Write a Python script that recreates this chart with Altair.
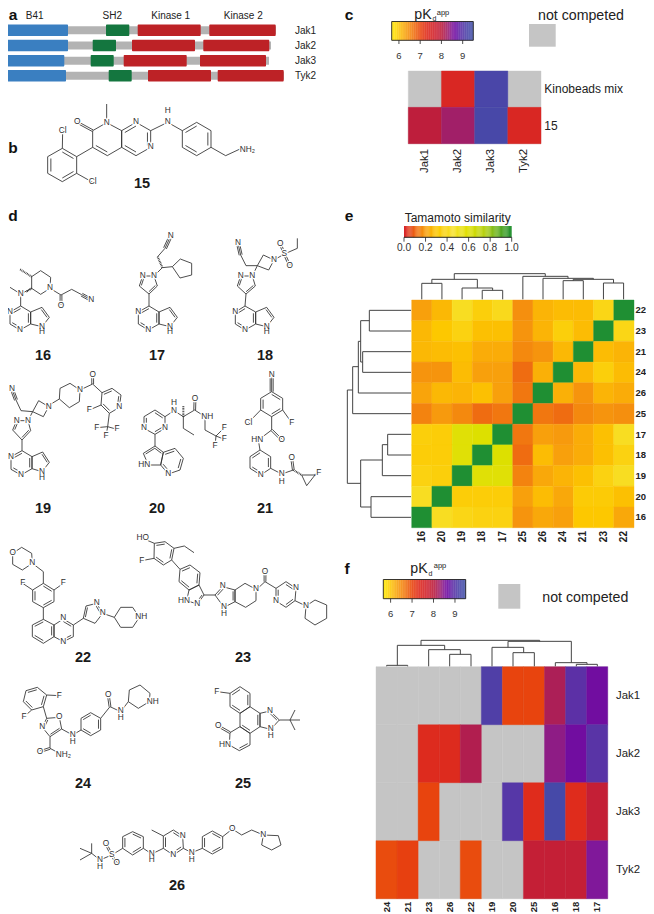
import altair as alt
import pandas as pd

# ---------- panel a ----------
proteins = ["Jak1", "Jak2", "Jak3", "Tyk2"]
protein_y = [30.3, 45.5, 60.7, 75.8]
backbone = [(0, 276), (0, 271), (1, 269), (0, 284)]
b41 = [(6.7, 68), (6.7, 68), (3.3, 64.3), (4.7, 66)]
sh2 = [(106, 129.3), (92.7, 116), (90.7, 113.7), (108.7, 131.7)]
kin1 = [(137.7, 200.7), (132, 195), (123.7, 186.7), (148, 211)]
kin2 = [(209.3, 275.7), (203.3, 269.3), (200, 266), (217.7, 283.7)]

# ---------- heat maps ----------
c_cols = ["Jak1", "Jak2", "Jak3", "Tyk2"]
c_rows = ["Kinobeads mix", "15"]
c_vals = [[None, 7.45, 9.2, None], [7.95, 8.25, 9.25, 7.45]]

e_cols = ["16", "20", "19", "18", "17", "25", "26", "24", "21", "23", "22"]
e_rows = ["22", "23", "21", "24", "26", "25", "17", "18", "19", "20", "16"]
e_vals = [
    [.20, .26, .42, .34, .40, .17, .25, .27, .27, .38, 1],
    [.26, .30, .36, .28, .28, .18, .25, .34, .27, 1, .38],
    [.26, .27, .28, .23, .23, .16, .18, .26, 1, .27, .25],
    [.18, .18, .27, .20, .20, .11, .24, 1, .26, .34, .27],
    [.21, .26, .25, .28, .20, .13, 1, .24, .18, .25, .23],
    [.15, .19, .16, .11, .13, 1, .13, .11, .16, .18, .17],
    [.34, .33, .58, .60, 1, .13, .20, .19, .23, .28, .42],
    [.33, .33, .58, 1, .60, .11, .27, .20, .23, .28, .36],
    [.36, .34, 1, .58, .58, .15, .22, .25, .28, .36, .42],
    [.42, 1, .33, .33, .33, .20, .27, .22, .32, .32, .28],
    [1, .42, .38, .36, .36, .18, .22, .20, .30, .30, .22],
]

f_cols = ["24", "21", "23", "26", "22", "19", "20", "25", "16", "18", "17"]
f_rows = ["Jak1", "Jak2", "Jak3", "Tyk2"]
f_vals = [
    [None, None, None, None, None, 9.1, 7.0, 7.0, 8.15, 8.9, 8.62],
    [None, None, 7.35, 7.35, 8.1, None, None, None, 8.4, 8.62, 8.95],
    [None, None, 7.0, None, None, None, 9.0, 7.3, 9.3, 7.3, 7.85],
    [6.95, 7.05, None, None, 6.95, None, None, 7.85, 7.85, 7.85, 8.5],
]

pk_domain = [5.66, 5.85, 6.0, 6.25, 6.5, 6.75, 7.0, 7.3, 7.6, 8.0, 8.3, 8.5, 8.65, 8.9, 9.2, 9.5]
pk_range = ["#ffe600", "#fed907", "#fcc40a", "#f8a70e", "#f58a10", "#ee6a10", "#e8440e", "#df2c1c",
            "#d3232a", "#bb1d3e", "#9c2070", "#80189a", "#6d0aa2", "#5c30a6", "#4a46a8", "#3f50a8"]
tama_domain = [0, .1, .2, .3, .45, .6, .75, .9, 1]
tama_range = ["#d7242a", "#ee6612", "#f8a00c", "#fdc800", "#f7e22a", "#dde000", "#b3d012", "#52a825", "#1f8f33"]

# ---------- dendrograms (crop pixels) ----------
e_top = [(276, 338, 250), (462, 525, 271), (400, 494, 264), (307, 447, 238), (711, 773, 242),
         (835, 897, 249), (742, 866, 238), (649, 804, 235), (587, 726, 229), (376, 656, 221)]
e_top_leaves = {276: 250, 338: 250, 462: 271, 525: 271, 400: 264, 711: 242, 773: 242, 835: 249, 897: 249, 649: 235,
                587: 229}
e_top_inner = [(307, 250, 238), (447, 264, 238), (494, 271, 264), (742, 242, 238), (866, 249, 238),
               (804, 238, 235), (726, 235, 229), (656, 229, 221), (376, 238, 221)]
e_left = [(331, 393, 118), (455, 517, 98), (362, 486, 92), (424, 579, 85), (500, 641, 68),
          (703, 765, 173), (734, 827, 157), (890, 952, 123), (780, 921, 92), (570, 850, 52)]
e_left_leaves = {331: 118, 393: 118, 455: 98, 517: 98, 579: 85, 641: 68, 703: 173, 765: 173, 827: 157, 890: 123,
                 952: 123}
e_left_inner = [(362, 118, 92), (486, 98, 92), (424, 92, 85), (500, 85, 68), (570, 68, 52),
                (734, 173, 157), (780, 157, 92), (921, 123, 92), (850, 92, 52)]
f_top = [(170, 233, 526), (359, 423, 493), (296, 391, 479), (202, 344, 466), (549, 613, 488),
         (486, 581, 472), (739, 802, 523), (676, 771, 518), (534, 724, 454), (273, 629, 451)]
f_leaves = {170: 526, 233: 526, 296: 479, 359: 493, 423: 493, 486: 472, 549: 488, 613: 488, 676: 518, 739: 523,
            802: 523}
f_inner = [(202, 526, 466), (344, 479, 466), (391, 493, 479), (581, 488, 472), (534, 472, 454),
           (771, 523, 518), (724, 518, 454), (273, 466, 451), (629, 454, 451)]

# ---------- molecules: (dx, dy, lines, rings, doubles, triples, hashes, atoms), crop pixels ----------
mols = []
mols.append((0, 0,
    [[(320, 368), (320, 312)], [(278, 442), (230, 470)], [(187, 445), (188, 392)], [(230, 520), (278, 547)],
     [(452, 392), (503, 367), (547, 392)], [(633, 442), (677, 467), (720, 447)]],
    [([(320, 368), (365, 392), (365, 442), (322, 467), (278, 442), (278, 392)], [3]),
     ([(365, 392), (408, 367), (452, 392), (452, 442), (408, 467), (365, 442)], [0, 2, 4]),
     ([(547, 392), (590, 367), (633, 392), (633, 442), (590, 467), (547, 442)], [0, 2, 4]),
     ([(230, 470), (187, 445), (143, 470), (143, 520), (187, 545), (230, 520)], [0, 2, 4])],
    [((278, 392), (232, 367))], [], [],
    [("O", 232, 367), ("N", 320, 368), ("N", 408, 367), ("N", 452, 442), ("N", 503, 367), ("H", 503, 332),
     ("NH₂", 742, 449), ("Cl", 188, 392), ("Cl", 278, 547)]))
# 16
mols.append((0, 200,
    [[(62, 318), (62, 282), (95, 265)], [(62, 282), (30, 262)], [(150, 265), (183, 285), (215, 268), (245, 284)]],
    [([(62, 318), (30, 336), (30, 372), (60, 390), (92, 372), (92, 336)], [0, 2, 4]),
     ([(92, 336), (126, 322), (148, 352), (126, 380), (92, 372)], [1]),
     ([(95, 265), (95, 230), (122, 212), (152, 232), (150, 265), (122, 283)], [])],
    [((183, 285), (183, 315))], [((245, 284), (274, 300))], [((95, 230), (60, 208)), ((95, 265), (78, 276))],
    [("N", 30, 336), ("N", 60, 390), ("N", 126, 380), ("H", 126, 397), ("N", 62, 282), ("N", 150, 265),
     ("O", 183, 317), ("N", 274, 300)]))
# 17
mols.append((0, 200,
    [[(447, 318), (447, 282)], [(462, 228), (487, 203), (517, 200)], [(473, 170), (495, 145)]],
    [([(447, 318), (415, 336), (415, 372), (445, 390), (477, 372), (477, 336)], [0, 2, 4]),
     ([(477, 336), (510, 322), (532, 352), (510, 380), (477, 372)], [1]),
     ([(447, 282), (418, 258), (428, 228), (462, 228), (472, 258)], [1, 4]),
     ([(517, 200), (541, 177), (575, 190), (575, 225), (540, 234)], [])],
    [], [((495, 145), (512, 108))], [((487, 203), (473, 170))],
    [("N", 415, 336), ("N", 445, 390), ("N", 510, 380), ("H", 510, 397), ("N", 428, 228), ("N", 462, 228),
     ("N", 512, 108)]))
# 18
mols.append((0, 200,
    [[(735, 318), (738, 282)], [(757, 228), (772, 197), (738, 197), (722, 165)], [(822, 180), (853, 162)],
     [(853, 162), (892, 145), (892, 115)]],
    [([(735, 318), (706, 336), (706, 372), (735, 390), (767, 372), (767, 336)], [0, 2, 4]),
     ([(767, 336), (800, 322), (822, 352), (800, 380), (767, 372)], [1]),
     ([(738, 282), (712, 258), (722, 228), (757, 228), (766, 258)], [1, 4]),
     ([(772, 197), (790, 165), (822, 180), (806, 210)], [])],
    [((853, 162), (841, 132)), ((853, 162), (869, 197))], [((722, 165), (714, 130))], [],
    [("N", 706, 336), ("N", 735, 390), ("N", 800, 380), ("H", 800, 397), ("N", 722, 228), ("N", 757, 228),
     ("N", 822, 180), ("S", 853, 162), ("O", 841, 132), ("O", 869, 197), ("N", 714, 130)]))
# 19
mols.append((6, 200,
    [[(48, 752), (48, 720)], [(66, 662), (80, 635), (45, 632), (30, 600)], [(125, 618), (160, 597)],
     [(222, 570), (260, 552), (288, 578)], [(285, 615), (250, 630)], [(310, 640), (305, 680)],
     [(305, 680), (272, 683)], [(305, 680), (333, 688)], [(305, 680), (300, 708)]],
    [([(48, 752), (15, 770), (15, 808), (45, 825), (78, 806), (78, 770)], [0, 2, 4]),
     ([(78, 770), (110, 756), (130, 787), (108, 815), (78, 806)], [1]),
     ([(48, 720), (20, 690), (32, 662), (66, 662), (74, 692)], [1, 4]),
     ([(80, 635), (98, 602), (128, 620), (112, 650)], []),
     ([(160, 597), (162, 565), (192, 550), (222, 570), (220, 605), (190, 623)], []),
     ([(288, 578), (318, 565), (345, 585), (340, 622), (310, 640), (285, 615)], [0, 2, 4])],
    [((260, 552), (260, 525))], [((30, 600), (18, 568))], [],
    [("N", 15, 770), ("N", 45, 825), ("N", 108, 815), ("H", 108, 835), ("N", 32, 662), ("N", 66, 662),
     ("N", 128, 620), ("N", 222, 570), ("O", 260, 525), ("N", 340, 622), ("F", 250, 630), ("N", 18, 568),
     ("F", 272, 683), ("F", 333, 688), ("F", 300, 708)]))
# 20
mols.append((0, 200,
    [[(495, 650), (522, 632), (550, 650), (584, 630), (615, 650), (615, 690), (648, 708)],
     [(550, 650), (550, 685), (582, 705)], [(648, 708), (673, 683)], [(648, 708), (673, 718)],
     [(648, 708), (645, 737)], [(465, 703), (465, 738)]],
    [([(465, 630), (432, 650), (432, 685), (465, 703), (495, 685), (495, 650)], [1, 3, 5]),
     ([(465, 738), (430, 760), (445, 795), (482, 795), (490, 757)], [0, 4]),
     ([(490, 757), (525, 745), (550, 775), (540, 810), (505, 822), (482, 795)], [0, 2, 4])],
    [((584, 630), (585, 597))], [], [((550, 650), (550, 618))],
    [("N", 432, 685), ("N", 495, 685), ("N", 522, 632), ("H", 522, 610), ("O", 585, 597), ("NH", 622, 650),
     ("HN", 433, 795), ("N", 505, 822), ("F", 673, 683), ("F", 673, 718), ("F", 645, 737)]))
# 21
mols.append((0, 200,
    [[(782, 630), (745, 668)], [(848, 630), (875, 668)], [(815, 650), (815, 690), (775, 720), (780, 750)],
     [(812, 805), (845, 822), (880, 810)]],
    [([(815, 575), (848, 595), (848, 630), (815, 650), (782, 630), (782, 595)], [0, 2, 4]),
     ([(780, 750), (812, 770), (812, 805), (782, 825), (750, 805), (750, 770)], [1, 3, 5]),
     ([(905, 825), (945, 825), (920, 857)], [])],
    [((815, 690), (845, 720)), ((880, 810), (875, 775))], [((815, 575), (815, 525))],
    [((880, 810), (905, 825)), ((945, 825), (952, 820))],
    [("N", 815, 525), ("Cl", 745, 668), ("F", 875, 668), ("O", 845, 720), ("HN", 772, 720), ("N", 782, 825),
     ("N", 845, 822), ("H", 845, 845), ("O", 875, 775), ("F", 956, 818)]))
# 22
mols.append((0, 530,
    [[(97, 100), (130, 125), (130, 160)], [(98, 180), (68, 160)], [(162, 180), (190, 160)], [(130, 233), (130, 268)],
     [(220, 285), (250, 265)], [(308, 250), (343, 262)]],
    [([(38, 70), (65, 52), (95, 70), (97, 100), (67, 120), (38, 103)], []),
     ([(130, 160), (162, 180), (162, 215), (130, 233), (98, 215), (98, 180)], [0, 2, 4]),
     ([(130, 268), (97, 285), (97, 320), (130, 340), (162, 320), (162, 285)], [0, 2, 4]),
     ([(162, 285), (190, 267), (220, 285), (220, 320), (190, 335), (162, 320)], [1, 3]),
     ([(250, 265), (258, 228), (290, 220), (308, 250), (285, 280)], [0, 2]),
     ([(343, 262), (362, 232), (398, 232), (418, 262), (398, 292), (362, 292)], [])],
    [], [], [],
    [("O", 38, 70), ("N", 97, 100), ("F", 68, 160), ("F", 190, 160), ("N", 190, 265), ("N", 190, 335),
     ("N", 290, 220), ("N", 308, 250), ("NH", 424, 262)]))
# 23
mols.append((0, 530,
    [[(463, 40), (428, 25)], [(462, 85), (425, 92)], [(522, 55), (553, 48), (582, 68)], [(515, 90), (540, 118)],
     [(612, 195), (645, 195)], [(768, 180), (795, 155), (828, 175)], [(885, 212), (918, 228)]],
    [([(463, 40), (495, 35), (522, 55), (515, 90), (490, 105), (462, 85)], [0, 2, 4]),
     ([(540, 118), (570, 105), (600, 128), (597, 165), (567, 180), (537, 155)], [0, 2, 4]),
     ([(597, 165), (612, 195), (592, 222), (560, 212), (567, 180)], [1]),
     ([(645, 195), (668, 170), (705, 180), (705, 215), (672, 232)], [0, 2]),
     ([(705, 180), (735, 160), (768, 178), (768, 212), (737, 232), (705, 215)], []),
     ([(828, 175), (858, 155), (888, 175), (885, 212), (858, 232), (828, 213)], [1, 3, 5]),
     ([(918, 228), (945, 210), (980, 225), (980, 265), (945, 285), (915, 265)], [])],
    [((795, 155), (795, 125))], [], [],
    [("HO", 428, 25), ("F", 425, 92), ("HN", 552, 212), ("N", 592, 222), ("N", 668, 168), ("N", 672, 232),
     ("H", 672, 251), ("N", 768, 178), ("O", 795, 125), ("N", 888, 175), ("N", 828, 213), ("N", 918, 228)]))
# 24
mols.append((0, 530,
    [[(140, 495), (178, 497)], [(95, 540), (72, 560)], [(130, 530), (140, 565)], [(185, 597), (218, 615), (243, 600)],
     [(302, 565), (330, 530), (362, 545), (385, 515)], [(150, 620), (150, 655), (182, 672)]],
    [([(78, 482), (112, 472), (140, 495), (130, 530), (95, 540), (70, 515)], [0, 2, 4]),
     ([(140, 565), (178, 562), (185, 597), (150, 620), (127, 592)], [2, 4]),
     ([(243, 565), (272, 548), (302, 565), (302, 600), (272, 617), (243, 600)], [0, 2, 4]),
     ([(385, 515), (388, 480), (420, 465), (450, 490), (448, 515), (415, 535)], [])],
    [((330, 530), (325, 495)), ((150, 655), (120, 665))], [], [],
    [("F", 178, 497), ("F", 72, 560), ("O", 178, 562), ("N", 127, 592), ("N", 218, 615), ("H", 218, 635),
     ("O", 325, 495), ("N", 362, 542), ("H", 362, 563), ("NH", 458, 515), ("O", 120, 665), ("NH₂", 190, 674)]))
# 25
mols.append((0, 530,
    [[(690, 490), (652, 485)], [(838, 570), (870, 570)], [(870, 570), (885, 540)], [(870, 570), (900, 570)],
     [(870, 570), (885, 600)]],
    [([(690, 490), (720, 470), (750, 490), (750, 530), (720, 550), (690, 530)], [0, 2, 4]),
     ([(750, 530), (780, 550), (780, 590), (750, 610), (720, 590), (720, 550)], [1, 3]),
     ([(780, 550), (810, 543), (838, 570), (812, 598), (780, 590)], [1]),
     ([(720, 590), (750, 610), (750, 645), (718, 662), (688, 645), (690, 608)], [2])],
    [((690, 608), (655, 588))], [], [],
    [("F", 650, 485), ("N", 810, 543), ("N", 812, 598), ("H", 812, 619), ("O", 655, 588), ("HN", 675, 645)]))
# 26
mols.append((0, 530,
    [[(275, 970), (240, 955)], [(275, 970), (240, 990)], [(275, 940), (275, 970), (300, 990), (335, 975), (368, 955)],
     [(430, 955), (455, 972), (490, 955)], [(490, 918), (455, 900)], [(550, 955), (575, 968), (607, 955)],
     [(668, 920), (697, 897), (725, 915), (755, 900), (790, 915)]],
    [([(368, 955), (368, 920), (398, 905), (430, 920), (430, 955), (398, 975)], [0, 2, 4]),
     ([(490, 955), (490, 918), (520, 900), (548, 918), (550, 955), (520, 975)], [0, 2, 4]),
     ([(607, 955), (607, 920), (637, 903), (668, 920), (668, 955), (637, 972)], [0, 2, 4]),
     ([(790, 915), (835, 917), (843, 945), (815, 960), (785, 945)], [])],
    [((335, 975), (318, 942)), ((335, 975), (350, 1000))], [], [],
    [("N", 300, 990), ("H", 300, 1012), ("S", 335, 975), ("O", 318, 942), ("O", 350, 1000), ("N", 455, 972),
     ("H", 455, 991), ("N", 548, 918), ("N", 520, 975), ("N", 575, 968), ("H", 575, 990), ("O", 697, 897),
     ("N", 790, 915)]))

mol_names = ["15", "16", "17", "18", "19", "20", "21", "22", "23", "24", "25", "26"]
mol_x = [142, 43, 157, 265, 43, 157, 265, 83, 243, 83, 243, 177]
mol_y = [184, 356, 356, 356, 509, 509, 509, 658, 658, 784, 784, 886]

# ---------- plain labels ----------
panel_letters = [("a", 13, 15), ("b", 13, 148), ("c", 349, 15), ("d", 13, 216), ("e", 349, 216), ("f", 347, 569)]

FONT = "Liberation Sans"
X = alt.Scale(domain=[8, 646], range=[0, 638], nice=False, zero=False)
Y = alt.Scale(domain=[8, 914], range=[0, 906], nice=False, zero=False)


def px(v):
    return alt.value(v - 8)


def xq(f):
    return alt.X(f, type="quantitative", scale=X, axis=None)


def yq(f):
    return alt.Y(f, type="quantitative", scale=Y, axis=None)


def rects(rows, color, **kw):
    df = pd.DataFrame(rows, columns=["x", "x2", "y", "y2"])
    return alt.Chart(df).mark_rect(color=color, **kw).encode(
        x=xq("x"), x2="x2", y=yq("y"), y2="y2")


def segs(rows, color="#333333", width=0.75, **kw):
    df = pd.DataFrame(rows, columns=["x", "y", "x2", "y2"])
    return alt.Chart(df).mark_rule(color=color, strokeWidth=width, **kw).encode(
        x=xq("x"), y=yq("y"), x2="x2", y2="y2")


def texts(rows, size, weight="normal", color="#222222", align="center", angle=0, halo=False, **extra):
    df = pd.DataFrame(rows, columns=["t", "x", "y"])
    kw = dict(font=FONT, fontSize=size, fontWeight=weight, color=color, align=align,
              baseline="middle", angle=angle, **extra)
    if halo:
        kw.update(stroke="white", strokeWidth=2.5, color="white")
    return alt.Chart(df).mark_text(**kw).encode(x=xq("x"), y=yq("y"), text="t:N")


layers = []

# ---- panel a
layers.append(rects([(a, b, y - 4, y + 4) for (a, b), y in zip(backbone, protein_y)], "#b3b3b3"))
for blocks, col in [(b41, "#3a7fc1"), (sh2, "#14763f"), (kin1, "#bd2226"), (kin2, "#bd2226")]:
    layers.append(rects([(a, b, y - 5.7, y + 5.7) for (a, b), y in zip(blocks, protein_y)], col, cornerRadius=1))
layers.append(texts([("B41", 34.7, 16), ("SH2", 112.3, 16), ("Kinase 1", 170.7, 16), ("Kinase 2", 243.3, 16)], 10))
layers.append(texts([(p, 295, y + .4) for p, y in zip(proteins, protein_y)], 10, align="left"))


# ---- heat map helper
def heat(cols, rows, vals, x0, x1, y0, y1, dom, rng, grey=True):
    sx = alt.Scale(domain=cols, range=[x0 - 8, x1 - 8], paddingInner=0, paddingOuter=0)
    sy = alt.Scale(domain=rows, range=[y0 - 8, y1 - 8], paddingInner=0, paddingOuter=0)
    recs = [{"c": c, "r": r, "v": vals[i][j]} for i, r in enumerate(rows) for j, c in enumerate(cols)]
    df = pd.DataFrame(recs)
    out = []
    enc = dict(x=alt.X("c:N", scale=sx, axis=None, sort=cols), y=alt.Y("r:N", scale=sy, axis=None, sort=rows))
    if grey:
        out.append(alt.Chart(df).mark_rect(color="#c5c5c5", stroke="#c5c5c5", strokeWidth=0.4).encode(**enc))
    cs = alt.Scale(domain=dom, range=rng, interpolate="rgb")
    out.append(alt.Chart(df.dropna()).mark_rect(strokeWidth=0.4).encode(
        color=alt.Color("v:Q", scale=cs, legend=None),
        stroke=alt.Color("v:Q", scale=cs, legend=None), **enc))
    return out, sx, sy


def col_labels(cols, sx, y, size, weight="normal"):
    df = pd.DataFrame({"c": cols})
    return alt.Chart(df).mark_text(font=FONT, fontSize=size, fontWeight=weight, color="#222222", angle=270,
                                   align="right", baseline="middle").encode(
        x=alt.X("c:N", scale=sx, axis=None, sort=cols), y=px(y), text="c:N")


def row_labels(rows, sy, x, size, weight="normal"):
    df = pd.DataFrame({"r": rows})
    return alt.Chart(df).mark_text(font=FONT, fontSize=size, fontWeight=weight, color="#222222",
                                   align="left", baseline="middle").encode(
        y=alt.Y("r:N", scale=sy, axis=None, sort=rows), x=px(x), text="r:N")


def colorbar(x0, x1, y0, y1, vmin, vmax, ticks, labels, dom, rng, tick_end, label_y, size, frame=True):
    sx = alt.Scale(domain=[vmin, vmax], range=[x0 - 8, x1 - 8], nice=False, zero=False)
    n = 120
    steps = [vmin + (vmax - vmin) * i / n for i in range(n)]
    ramp = pd.DataFrame({"v": steps, "v2": [s + (vmax - vmin) / n * 1.2 for s in steps]})
    ramp["v2"] = ramp["v2"].clip(upper=vmax)
    out = [alt.Chart(ramp).mark_rect().encode(
        x=alt.X("v:Q", scale=sx, axis=None), x2="v2:Q", y=px(y0), y2=px(y1),
        color=alt.Color("v:Q", scale=alt.Scale(domain=dom, range=rng, interpolate="rgb"), legend=None))]
    if frame:
        out.append(rects([(x0, x1, y0, y1)], "transparent", stroke="#222222", strokeWidth=0.9))
    else:
        out.append(segs([(x0, y1, x1, y1)], "#111111", 0.9))
    tdf = pd.DataFrame({"v": ticks, "t": labels})
    out.append(alt.Chart(tdf).mark_rule(color="#222222", strokeWidth=0.8).encode(
        x=alt.X("v:Q", scale=sx, axis=None), y=px(y1), y2=px(tick_end)))
    out.append(alt.Chart(tdf).mark_text(font=FONT, fontSize=size, color="#333333", baseline="middle").encode(
        x=alt.X("v:Q", scale=sx, axis=None), y=px(label_y), text="t:N"))
    return out


# ---- panel c
hm, sx, sy = heat(c_cols, c_rows, c_vals, 408.3, 541, 71, 143.7, pk_domain, pk_range)
layers += hm
layers.append(col_labels(c_cols, sx, 149, 11.4))
layers.append(row_labels(c_rows, sy, 544.3, 12))
layers += colorbar(391.7, 473.3, 21.5, 40.3, 5.66, 9.5, [6, 7, 8, 9], ["6", "7", "8", "9"], pk_domain, pk_range,
                   44, 55.7, 9.5)
layers.append(rects([(529, 555.7, 24, 46.7)], "#c5c5c5"))
layers.append(texts([("not competed", 581, 16)], 14.2))
layers.append(texts([("pK", 423, 15)], 14.2))
layers.append(texts([("d", 434.5, 18.5)], 7))
layers.append(texts([("app", 443, 12.5)], 7.5))

# ---- panel e
E_X0, E_X1 = 411.7, 634.0
hm, sx, sy = heat(e_cols, e_rows, e_vals, E_X0, E_X1, 300, 527.7, tama_domain, tama_range, grey=False)
layers += hm
layers.append(col_labels(e_cols, sx, 531, 10, "bold"))
layers.append(row_labels(e_rows, sy, 635.5, 9.5, "bold"))
layers += colorbar(404, 511.7, 226, 237.3, 0, 1, [0, .2, .4, .6, .8, 1], ["0.0", "0.2", "0.4", "0.6", "0.8", "1.0"],
                   tama_domain, tama_range, 241.7, 248.3, 10.2, frame=False)
layers.append(texts([("Tamamoto similarity", 457.7, 217.7)], 12))


def ex(a):
    return E_X0 + (a - 245) / 684 * (E_X1 - E_X0)


e_seg = [(ex(a), 200 + h / 3, ex(b), 200 + h / 3) for a, b, h in e_top]
e_seg += [(ex(x), 200 + h / 3, ex(x), 200 + 298 / 3) for x, h in e_top_leaves.items()]
e_seg += [(ex(x), 200 + lo / 3, ex(x), 200 + hi / 3) for x, lo, hi in e_top_inner]
e_seg += [(330 + h / 3, 200 + y / 3, 330 + 243 / 3, 200 + y / 3) for y, h in e_left_leaves.items()]
e_seg += [(330 + h / 3, 200 + a / 3, 330 + h / 3, 200 + b / 3) for a, b, h in e_left]
e_seg += [(330 + hi / 3, 200 + y / 3, 330 + lo / 3, 200 + y / 3) for y, lo, hi in e_left_inner]
layers.append(segs(e_seg, "#444444", 1))

# ---- panel f
hm, sx, sy = heat(f_cols, f_rows, f_vals, 376, 607.7, 666.7, 898.7, pk_domain, pk_range)
layers += hm
layers.append(col_labels(f_cols, sx, 901.7, 9.5, "bold"))
layers.append(row_labels(f_rows, sy, 616, 11.4))
layers += colorbar(383.3, 465.7, 579.5, 598.7, 5.66, 9.5, [6, 7, 8, 9], ["6", "7", "8", "9"], pk_domain, pk_range,
                   602.7, 614, 9.5)
layers.append(rects([(498.3, 520.3, 584, 608.7)], "#c5c5c5"))
layers.append(texts([("not competed", 585.3, 598.3)], 14.2))
layers.append(texts([("pK", 419, 568.5)], 14.2))
layers.append(texts([("d", 430.5, 574)], 7))
layers.append(texts([("app", 440, 565.5)], 7.5))

f_seg = [(330 + a / 3, 490 + h / 3, 330 + b / 3, 490 + h / 3) for a, b, h in f_top]
f_seg += [(330 + x / 3, 490 + h / 3, 330 + x / 3, 490 + 529 / 3) for x, h in f_leaves.items()]
f_seg += [(330 + x / 3, 490 + lo / 3, 330 + x / 3, 490 + hi / 3) for x, lo, hi in f_inner]
layers.append(segs(f_seg, "#444444", 1))

# ---- molecules
bonds, hashes, atoms = [], [], []
for ox, off, lines, rings, dbl, tri, hsh, labs in mols:
    def P(p):
        return (ox + p[0] / 3, off + p[1] / 3)
    for poly in lines:
        pts = [P(p) for p in poly]
        bonds += [(a[0], a[1], b[0], b[1]) for a, b in zip(pts, pts[1:])]
    for pts, dd in rings:
        pts = [P(p) for p in pts]
        cx = sum(p[0] for p in pts) / len(pts)
        cy = sum(p[1] for p in pts) / len(pts)
        for i, a in enumerate(pts):
            b = pts[(i + 1) % len(pts)]
            bonds.append((a[0], a[1], b[0], b[1]))
            if i in dd:
                k = 0.22
                a2 = (a[0] + (cx - a[0]) * k, a[1] + (cy - a[1]) * k)
                b2 = (b[0] + (cx - b[0]) * k, b[1] + (cy - b[1]) * k)
                bonds.append((a2[0], a2[1], b2[0], b2[1]))
    for group, shifts in ((dbl, (-0.9, 0.9)), (tri, (-1.5, 0, 1.5))):
        for a, b in group:
            a, b = P(a), P(b)
            dx, dy = b[0] - a[0], b[1] - a[1]
            L = (dx ** 2 + dy ** 2) ** .5
            nx, ny = -dy / L, dx / L
            for s in shifts:
                bonds.append((a[0] + nx * s, a[1] + ny * s, b[0] + nx * s, b[1] + ny * s))
    for a, b in hsh:
        a, b = P(a), P(b)
        hashes.append((a[0], a[1], b[0], b[1]))
    for t, x, y in labs:
        atoms.append((t, ox + x / 3, off + y / 3))

layers.append(segs(bonds, "#2e2e2e", 0.85))
layers.append(segs(hashes, "#2e2e2e", 2, strokeDash=[0.8, 0.8]))
layers.append(texts(atoms, 8.3, halo=True))
layers.append(texts(atoms, 8.3, color="#2e2e2e", opacity=0.99))
layers.append(texts(list(zip(mol_names, mol_x, mol_y)), 14.5, "bold", "#1a1a1a"))
layers.append(texts(panel_letters, 15.5, "bold", "#111111"))

chart = alt.layer(*layers).resolve_scale(x="independent", y="independent", color="independent",
                                         stroke="independent").properties(
    width=638, height=906, padding=0, autosize=alt.AutoSizeParams(type="none")
).configure_view(stroke=None)

chart.save("out.html", embed_options={"renderer": "svg", "actions": False})
